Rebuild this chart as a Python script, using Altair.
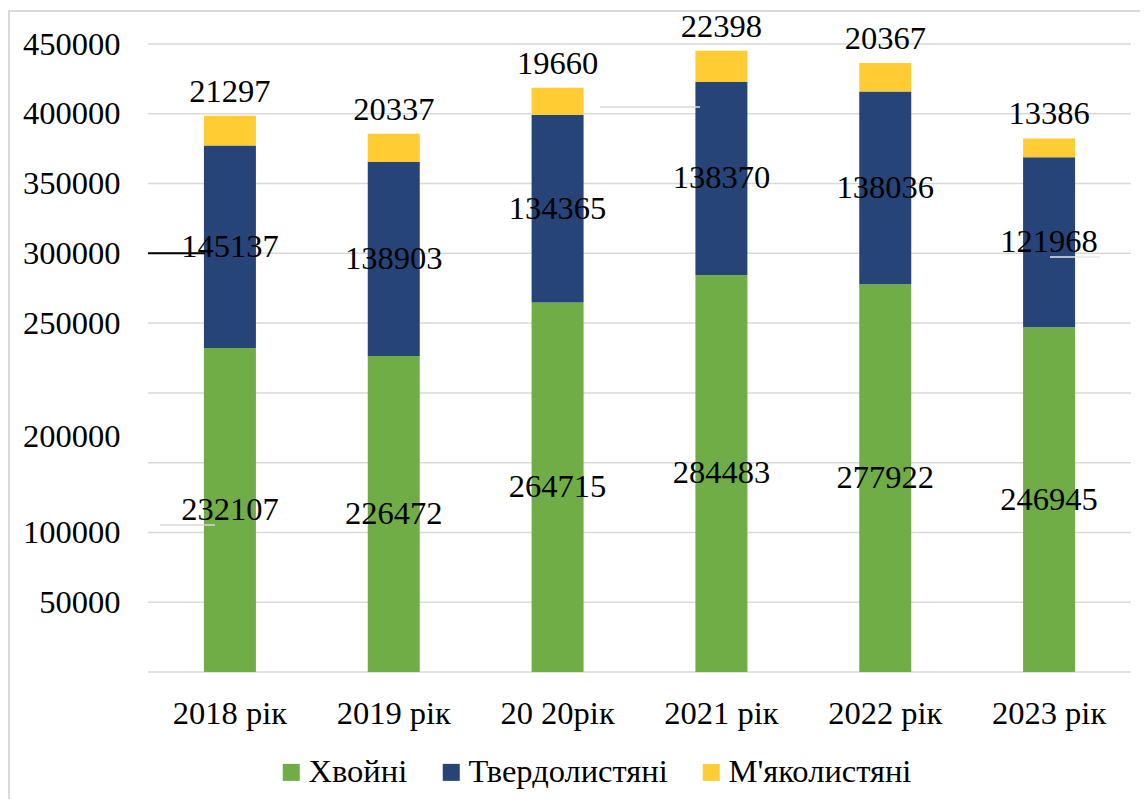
import altair as alt
import pandas as pd

years = ["2018 рік", "2019 рік", "20 20рік", "2021 рік", "2022 рік", "2023 рік"]
series = ["Хвойні", "Твердолистяні", "М'яколистяні"]
conifer = [232107, 226472, 264715, 284483, 277922, 246945]
hardwood = [145137, 138903, 134365, 138370, 138036, 121968]
softwood = [21297, 20337, 19660, 22398, 20367, 13386]
colors = ["#70ad47", "#264478", "#ffcc33"]

grid_values = [0, 50000, 100000, 150000, 200000, 250000, 300000, 350000, 400000, 450000]
y_tick_values = [50000, 100000, 169000, 250000, 300000, 350000, 400000, 450000]
y_tick_labels = ["50000", "100000", "200000", "250000", "300000", "350000", "400000", "450000"]

FONT = "Liberation Serif"
FS = 32.5
W, H = 983, 628

rows = []
for i, yr in enumerate(years):
    lo = 0
    for k, (s, vals) in enumerate(zip(series, [conifer, hardwood, softwood])):
        v = vals[i]
        rows.append(dict(year=yr, series=s, value=v, lo=lo, hi=lo + v, mid=lo + v / 2, k=k))
        lo += v
df = pd.DataFrame(rows)

label_expr = ""
for v, l in zip(y_tick_values, y_tick_labels):
    label_expr += f"datum.value == {v} ? '{l}' : "
label_expr += "''"

yscale = alt.Scale(domain=[0, 450000], nice=False, zero=True)
xscale = alt.Scale(domain=years, paddingInner=0, paddingOuter=0)

x_axis = alt.Axis(title=None, labelAngle=0, ticks=False, domain=False,
                  labelFontSize=FS, labelFont=FONT, labelColor="black",
                  labelPadding=25, grid=False)
y_axis = alt.Axis(title=None, values=y_tick_values, labelExpr=label_expr,
                  grid=False, ticks=False, domain=False, labelFontSize=FS,
                  labelFont=FONT, labelColor="black", labelPadding=28)

grid = alt.Chart(pd.DataFrame({"g": grid_values})).mark_rule(
    color="#d9d9d9", strokeWidth=1.5
).encode(y=alt.Y("g:Q", scale=yscale, axis=y_axis))

bars = alt.Chart(df).mark_bar(size=52).encode(
    x=alt.X("year:N", sort=years, scale=xscale, axis=x_axis),
    y=alt.Y("lo:Q", scale=yscale, axis=y_axis),
    y2="hi:Q",
    color=alt.Color("series:N", scale=alt.Scale(domain=series, range=colors),
                    legend=alt.Legend(orient="none", legendX=127, legendY=712,
                                      direction="horizontal", title=None,
                                      symbolType="square", symbolSize=289,
                                      symbolStrokeWidth=0, labelFontSize=FS,
                                      labelFont=FONT, labelColor="black",
                                      labelLimit=0, columnPadding=27,
                                      labelOffset=1, padding=0)),
)

inner = alt.Chart(df[df.k < 2]).mark_text(
    font=FONT, fontSize=FS, color="black", baseline="middle"
).encode(
    x=alt.X("year:N", sort=years, scale=xscale, axis=x_axis),
    y=alt.Y("mid:Q", scale=yscale, axis=y_axis),
    text="value:Q",
)

top = alt.Chart(df[df.k == 2]).mark_text(
    font=FONT, fontSize=FS, color="black", baseline="middle", dy=-24
).encode(
    x=alt.X("year:N", sort=years, scale=xscale, axis=x_axis),
    y=alt.Y("hi:Q", scale=yscale, axis=y_axis),
    text="value:Q",
)

one = pd.DataFrame({"a": [0]})
frame = alt.Chart(one).mark_rect(fillOpacity=0, stroke="#d9d9d9", strokeWidth=2).encode(
    x=alt.value(-139), x2=alt.value(1200), y=alt.value(-33), y2=alt.value(900)
)

# stray line fragments visible in the reference image
black_line = alt.Chart(one).mark_rule(color="black", strokeWidth=2).encode(
    x=alt.value(0), x2=alt.value(57), y=alt.datum(300000, scale=yscale, axis=y_axis)
)
frag1 = alt.Chart(one).mark_rule(color="#d9d9d9", strokeWidth=1.5).encode(
    x=alt.value(452), x2=alt.value(552), y=alt.datum(404900, scale=yscale, axis=y_axis)
)
frag2 = alt.Chart(one).mark_rule(color="#d9d9d9", strokeWidth=1.5).encode(
    x=alt.value(12), x2=alt.value(67), y=alt.datum(105300, scale=yscale, axis=y_axis)
)
frag3 = alt.Chart(one).mark_rule(color="#e8e8e8", strokeWidth=1.5).encode(
    x=alt.value(902), x2=alt.value(952), y=alt.datum(297400, scale=yscale, axis=y_axis)
)

chart = alt.layer(grid, bars, black_line, frag1, frag2, frag3, inner, top, frame).properties(
    width=W, height=H,
    padding={"left": 140, "top": 36, "right": 9, "bottom": 127},
    autosize="none",
).configure(background="white").configure_view(stroke=None)

chart.save("out.html", embed_options={"renderer": "svg", "actions": False})
